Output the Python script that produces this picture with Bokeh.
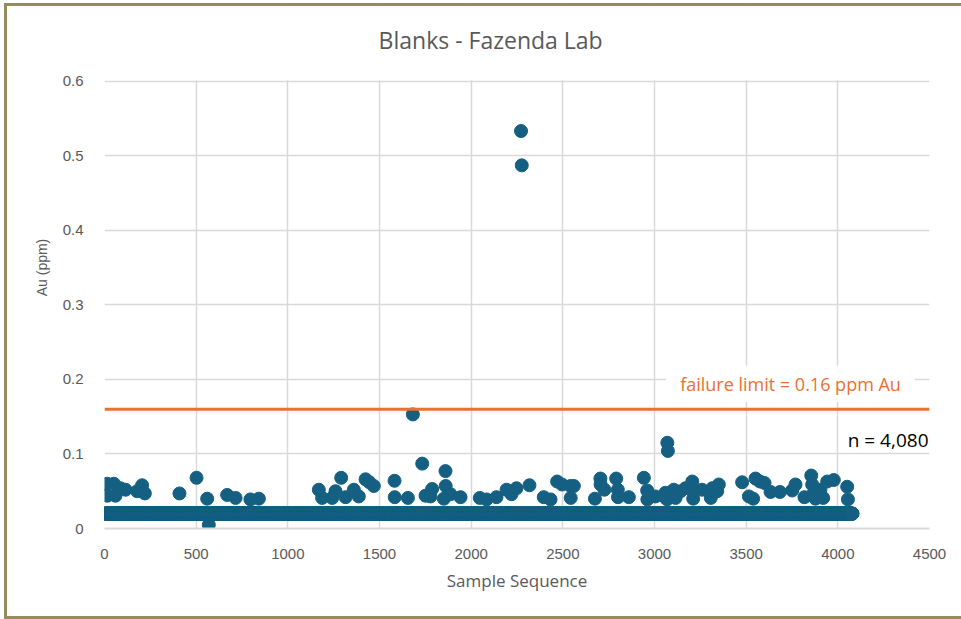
import numpy as np
from bokeh.plotting import figure
from bokeh.layouts import column
from bokeh.models import Span, Label, FixedTicker, NumeralTickFormatter, Range1d, BoxAnnotation
from bokeh.embed import file_html
from bokeh.resources import INLINE

# ---- data ----
n_samples = 4080
detection_value = 0.02          # value reported for samples at detection limit
failure_limit = 0.16
chart_title = "Blanks - Fazenda Lab"

# samples reporting above the detection value (sample number, Au ppm)
hi_sample = [15, 51, 16, 60, 87, 115, 178, 205, 220, 409, 502, 560, 569, 669, 715, 796, 842,
             1169, 1187, 1242, 1260, 1291, 1315, 1360, 1387, 1424, 1445, 1469, 1582, 1583, 1655,
             1682, 1733, 1751, 1778, 1787, 1851, 1860, 1861, 1887, 1942, 2047, 2084, 2138, 2193,
             2220, 2247, 2272, 2276, 2318, 2396, 2433, 2469, 2496, 2542, 2543, 2560, 2675, 2705,
             2706, 2727, 2791, 2800, 2801, 2860, 2942, 2960, 2961, 3005, 3060, 3061, 3069, 3070,
             3073, 3105, 3115, 3142, 3169, 3206, 3207, 3211, 3260, 3306, 3307, 3315, 3342, 3351,
             3478, 3515, 3538, 3551, 3575, 3600, 3633, 3684, 3751, 3769, 3818, 3855, 3860, 3869,
             3878, 3905, 3920, 3942, 3978, 4051, 4055]
hi_value = [0.060, 0.060, 0.044, 0.044, 0.054, 0.052, 0.050, 0.058, 0.047, 0.047, 0.068, 0.040,
            0.005, 0.045, 0.041, 0.039, 0.040,
            0.052, 0.041, 0.041, 0.050, 0.068, 0.042, 0.052, 0.043, 0.066, 0.062, 0.057, 0.064,
            0.042, 0.041, 0.153, 0.087, 0.044, 0.043, 0.053, 0.040, 0.077, 0.057, 0.046, 0.042,
            0.041, 0.039, 0.042, 0.052, 0.046, 0.054, 0.533, 0.487, 0.058, 0.042, 0.039, 0.063,
            0.059, 0.057, 0.041, 0.057, 0.040, 0.067, 0.059, 0.052, 0.067, 0.052, 0.042, 0.042,
            0.068, 0.051, 0.039, 0.043, 0.048, 0.041, 0.039, 0.115, 0.104, 0.052, 0.041, 0.050,
            0.054, 0.063, 0.052, 0.040, 0.052, 0.048, 0.041, 0.054, 0.050, 0.059, 0.062, 0.043,
            0.040, 0.067, 0.063, 0.061, 0.049, 0.049, 0.051, 0.059, 0.042, 0.071, 0.059, 0.048,
            0.040, 0.052, 0.041, 0.063, 0.065, 0.056, 0.039]

x_ticks = [0, 500, 1000, 1500, 2000, 2500, 3000, 3500, 4000, 4500]
y_ticks = [0, 0.1, 0.2, 0.3, 0.4, 0.5, 0.6]
y_axis_max = 0.6

sample_seq = np.arange(1, n_samples + 1)
au = np.full(n_samples, detection_value)
for s, v in zip(hi_sample, hi_value):
    au[s - 1] = v

# ---- styling ----
BLUE = "#156082"
ORANGE = "#E97132"
GREY_TXT = "#595959"
GRID = "#D9D9D9"
OLIVE = "#978B5C"

# the frame is extended upward to hold the title; the area above 0.6 is masked white
p = figure(width=954, height=610, output_backend="svg", toolbar_location=None,
           x_range=Range1d(0, 4500), y_range=Range1d(0, 0.70),
           min_border_left=97, min_border_right=32, min_border_top=0, min_border_bottom=88)
p.margin = (6, 0, 3, 7)
p.styles = {"box-shadow": f"-3px 0 0 0 {OLIVE}, 0 -3px 0 0 {OLIVE}, 0 3px 0 0 {OLIVE}, "
                          f"-3px -3px 0 0 {OLIVE}, -3px 3px 0 0 {OLIVE}"}
p.outline_line_color = None
p.background_fill_color = "white"
p.border_fill_color = "white"

p.xaxis.ticker = FixedTicker(ticks=x_ticks)
p.yaxis.ticker = FixedTicker(ticks=y_ticks)
p.yaxis.formatter = NumeralTickFormatter(format="0.[0]")
p.xaxis.formatter = NumeralTickFormatter(format="0")
for ax in (p.xaxis, p.yaxis):
    ax.major_tick_line_color = None
    ax.minor_tick_line_color = None
    ax.major_label_text_font = "Liberation Sans"
    ax.major_label_text_font_size = "15px"
    ax.major_label_text_color = GREY_TXT
    ax.axis_label_text_font_style = "normal"
    ax.axis_label_text_color = GREY_TXT
p.yaxis.axis_line_color = None
p.xaxis.axis_line_color = GRID
p.xaxis.axis_line_width = 2
p.xaxis.major_label_standoff = 14
p.yaxis.major_label_standoff = 15
p.xaxis.axis_label = "Sample Sequence"
p.xaxis.axis_label_text_font = "Open Sans"
p.xaxis.axis_label_text_font_size = "17px"
p.xaxis.axis_label_standoff = 7
p.yaxis.axis_label = "Au (ppm)"
p.yaxis.axis_label_text_font = "Liberation Sans"
p.yaxis.axis_label_text_font_size = "14px"
p.yaxis.axis_label_standoff = 10

p.xgrid.grid_line_color = GRID
p.ygrid.grid_line_color = GRID
p.xgrid.grid_line_width = 1.5
p.ygrid.grid_line_width = 1.5

p.scatter(sample_seq, au, size=13, color=BLUE)

# white mask above the top of the value axis, then the title on it
p.add_layout(BoxAnnotation(bottom=y_axis_max + 0.0012, fill_color="white", fill_alpha=1.0,
                           line_color=None))
p.add_layout(Label(x=1495, y=0.6546, text=chart_title, text_align="left",
                   text_baseline="middle", text_font="Open Sans", text_font_size="23px",
                   text_color=GREY_TXT))

p.add_layout(Label(x=3742, y=0.194, text="failure limit = 0.16 ppm Au", text_align="center",
                   text_baseline="middle", text_font="Open Sans", text_font_size="18px",
                   text_color=ORANGE, background_fill_color="white", padding=(14, 6)))
p.add_layout(Span(location=failure_limit, dimension="width", line_color=ORANGE, line_width=3))
p.add_layout(Label(x=4054, y=0.119, text="n = 4,080", text_align="left",
                   text_baseline="middle", text_font="Open Sans", text_font_size="19px",
                   text_color="#000000"))

layout = column(p, width=961, height=619)

open("out.html", "w").write(file_html(layout, INLINE))
